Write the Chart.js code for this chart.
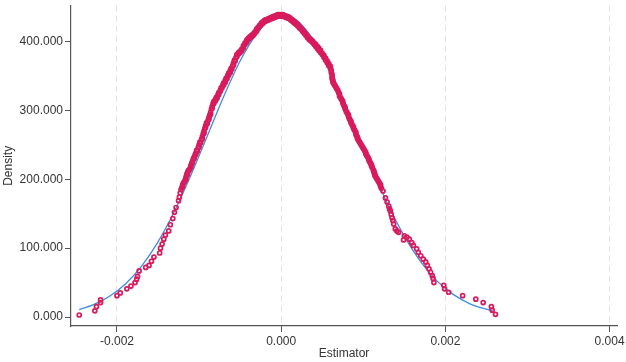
<!DOCTYPE html>
<html>
<head>
<meta charset="utf-8">
<script src="https://cdn.jsdelivr.net/npm/chart.js@4"></script>
<style>
  html, body { margin: 0; padding: 0; background: #fff; }
  #wrap { width: 626px; height: 362px; }
</style>
</head>
<body>
<div id="wrap"><canvas id="chart"></canvas></div>
<script>
// kernel density at each estimate
const estimator = [
  -0.00246, -0.00227, -0.00225, -0.00220, -0.00220, -0.00200, -0.00196, -0.00188, -0.00183, -0.00178,
  -0.00176, -0.00175, -0.00173, -0.00165, -0.00161, -0.00158, -0.00155, -0.00148, -0.00147, -0.00145,
  -0.00143, -0.00141, -0.00137, -0.00135, -0.00132, -0.00130, -0.00128, -0.00125, -0.00124, -0.00123,
  -0.00122, -0.00121, -0.00120, -0.00119, -0.00117, -0.00116, -0.00115, -0.00114, -0.00113, -0.00111,
  -0.00110, -0.00109, -0.00108, -0.00107, -0.00106, -0.00105, -0.00104, -0.00103, -0.00101, -0.00100,
  -0.00099, -0.00097, -0.00096, -0.00095, -0.00094, -0.00093, -0.00092, -0.00091, -0.00089, -0.00088,
  -0.00087, -0.00086, -0.00085, -0.00084, -0.00083, -0.00082, -0.00080, -0.00079, -0.00077, -0.00076,
  -0.00074, -0.00073, -0.00071, -0.00070, -0.00068, -0.00067, -0.00065, -0.00064, -0.00062, -0.00061,
  -0.00059, -0.00058, -0.00057, -0.00055, -0.00054, -0.00052, -0.00050, -0.00048, -0.00046, -0.00044,
  -0.00042, -0.00040, -0.00038, -0.00036, -0.00034, -0.00032, -0.00030, -0.00028, -0.00026, -0.00024,
  -0.00022, -0.00020, -0.00018, -0.00016, -0.00014, -0.00012, -0.00010, -0.00008, -0.00006, -0.00004,
  -0.00002, 0.00000, 0.00002, 0.00004, 0.00006, 0.00008, 0.00010, 0.00012, 0.00014, 0.00016,
  0.00018, 0.00020, 0.00022, 0.00024, 0.00026, 0.00028, 0.00030, 0.00032, 0.00034, 0.00036,
  0.00038, 0.00040, 0.00042, 0.00044, 0.00046, 0.00048, 0.00050, 0.00052, 0.00054, 0.00056,
  0.00058, 0.00060, 0.00061, 0.00062, 0.00062, 0.00063, 0.00065, 0.00067, 0.00069, 0.00071,
  0.00072, 0.00074, 0.00075, 0.00077, 0.00078, 0.00080, 0.00082, 0.00083, 0.00085, 0.00086,
  0.00088, 0.00089, 0.00091, 0.00092, 0.00093, 0.00095, 0.00097, 0.00099, 0.00101, 0.00103,
  0.00104, 0.00106, 0.00107, 0.00109, 0.00110, 0.00112, 0.00113, 0.00114, 0.00116, 0.00118,
  0.00120, 0.00121, 0.00124, 0.00127, 0.00129, 0.00131, 0.00132, 0.00133, 0.00134, 0.00135,
  0.00136, 0.00137, 0.00139, 0.00141, 0.00143, 0.00149, 0.00150, 0.00153, 0.00156, 0.00159,
  0.00161, 0.00165, 0.00167, 0.00170, 0.00173, 0.00176, 0.00178, 0.00180, 0.00182, 0.00184,
  0.00185, 0.00186, 0.00198, 0.00199, 0.00204, 0.00221, 0.00237, 0.00246, 0.00256, 0.00257,
  0.00261,
  // lower edge of the dense central band
  -0.00120, -0.00118, -0.00116, -0.00114, -0.00112, -0.00110, -0.00108, -0.00106, -0.00104, -0.00102,
  -0.00100, -0.00098, -0.00096, -0.00094, -0.00092, -0.00090, -0.00088, -0.00086, -0.00084, -0.00082,
  -0.00080, -0.00078, -0.00076, -0.00074, -0.00072, -0.00070, -0.00068, -0.00066, -0.00064, -0.00062,
  -0.00060, -0.00058, -0.00056, -0.00054, -0.00052, -0.00050, -0.00048, -0.00046, -0.00044, -0.00042,
  -0.00040, -0.00038, -0.00036, -0.00034, -0.00032, -0.00030, -0.00028, -0.00026, -0.00024, -0.00022,
  -0.00020, -0.00018, -0.00016, -0.00014, -0.00012, -0.00010, -0.00008, -0.00006, -0.00004, -0.00002,
  0.00000, 0.00002, 0.00004, 0.00006, 0.00008, 0.00010, 0.00012, 0.00014, 0.00016, 0.00018,
  0.00020, 0.00022, 0.00024, 0.00026, 0.00028, 0.00030, 0.00032, 0.00034, 0.00036, 0.00038,
  0.00040, 0.00042, 0.00044, 0.00046, 0.00048, 0.00050, 0.00052, 0.00054, 0.00056, 0.00058,
  0.00060, 0.00061, 0.00062, 0.00063, 0.00064, 0.00066, 0.00068, 0.00070, 0.00071, 0.00073,
  0.00075, 0.00076, 0.00078, 0.00079, 0.00081, 0.00082, 0.00084, 0.00085, 0.00087, 0.00088,
  0.00090, 0.00091, 0.00093, 0.00094, 0.00096, 0.00098, 0.00100, 0.00102, 0.00103, 0.00105,
  0.00107, 0.00108, 0.00110, 0.00111, 0.00113, 0.00114, 0.00115, 0.00117, 0.00119, 0.00121,
  0.00122
];
const density = [
  3, 9, 15, 21, 25, 31, 35, 41, 45, 50,
  55, 59, 67, 72, 75, 81, 87, 93, 100, 106,
  113, 119, 125, 134, 143, 152, 159, 169, 174, 180,
  185, 188, 192, 195, 199, 203, 207, 210, 213, 216,
  220, 223, 226, 230, 232, 235, 238, 242, 246, 250,
  254, 258, 262, 266, 270, 274, 278, 282, 286, 290,
  293, 297, 302, 306, 310, 313, 316, 319, 323, 326,
  330, 333, 337, 340, 344, 347, 351, 354, 358, 361,
  365, 369, 373, 377, 381, 384, 386, 389, 394, 398,
  402, 405, 407, 409, 411, 414, 418, 421, 424, 427,
  429, 431, 432, 433, 434, 435, 436, 437, 438, 439,
  439, 439, 439, 438, 437, 436, 435, 433, 431, 429,
  427, 425, 422, 420, 417, 414, 411, 408, 405, 403,
  401, 398, 396, 393, 390, 387, 383, 380, 376, 372,
  368, 364, 358, 352, 346, 341, 337, 333, 329, 324,
  319, 315, 311, 306, 302, 297, 293, 288, 284, 280,
  276, 272, 268, 263, 259, 255, 251, 247, 243, 239,
  235, 231, 227, 223, 219, 214, 210, 206, 202, 198,
  194, 190, 183, 173, 167, 161, 157, 154, 149, 144,
  140, 135, 128, 125, 123, 112, 118, 116, 113, 108,
  104, 99, 94, 89, 84, 80, 75, 70, 65, 60,
  56, 50, 46, 41, 36, 31, 26, 21, 15, 10,
  4,
  // lower edge of the dense central band
  189, 196, 200, 207, 213, 218, 224, 230, 236, 241,
  247, 253, 259, 267, 275, 281, 287, 294, 303, 310,
  314, 318, 323, 328, 333, 337, 341, 346, 351, 355,
  360, 366, 372, 378, 382, 384, 387, 391, 396, 399,
  403, 405, 407, 409, 412, 415, 419, 422, 425, 427,
  429, 430, 431, 433, 433, 434, 435, 436, 437, 437,
  437, 437, 436, 435, 434, 433, 431, 429, 427, 425,
  423, 420, 418, 415, 412, 409, 406, 403, 401, 399,
  396, 393, 390, 387, 384, 381, 377, 373, 369, 365,
  361, 355, 349, 344, 339, 335, 331, 326, 321, 317,
  313, 308, 304, 299, 295, 291, 286, 282, 278, 274,
  270, 265, 261, 257, 253, 249, 245, 241, 237, 233,
  229, 225, 221, 217, 212, 208, 204, 200, 196, 192,
  187
];

// normal density overlay
const normalX = [
  -0.00246, -0.0023, -0.0021, -0.0019, -0.0017, -0.0015, -0.0013, -0.0011, -0.0009, -0.0007,
  -0.0005, -0.0003, -0.0001, 0.0001, 0.0003, 0.0005, 0.0007, 0.0009, 0.0011, 0.0013,
  0.0015, 0.0017, 0.0019, 0.0021, 0.0023, 0.00258
];
const normalY = [
  10.8, 17.2, 29.4, 47.7, 73.9, 109.1, 153.5, 205.8, 262.9, 320.3,
  371.8, 411.3, 433.6, 435.7, 417.3, 380.8, 331.2, 274.6, 217.0, 163.3,
  117.2, 80.2, 52.2, 32.5, 19.2, 8.5
];

const xTicks = [-0.002, 0, 0.002, 0.004];
const yTicks = [0, 100, 200, 300, 400];

const axisColor = "#555";
const textColor = "#333";
const font = { family: "Liberation Sans, Arial, sans-serif", size: 12 };

new Chart(document.getElementById("chart"), {
  type: "scatter",
  data: {
    datasets: [
      {
        label: "Kernel density",
        data: estimator.map((x, i) => ({ x: x, y: density[i] })),
        pointStyle: "circle",
        pointRadius: 2,
        pointBorderWidth: 1.7,
        pointBackgroundColor: "rgba(255,255,255,0)",
        pointBorderColor: "#d81b5c",
        order: 1,
      },
      {
        label: "Normal density",
        type: "line",
        data: normalX.map((x, i) => ({ x: x, y: normalY[i] })),
        borderColor: "#3a8ee6",
        borderWidth: 1.3,
        pointRadius: 0,
        fill: false,
        cubicInterpolationMode: "monotone",
        order: 2,
      },
    ],
  },
  options: {
    responsive: true,
    maintainAspectRatio: false,
    animation: false,
    layout: { padding: { top: 3, right: 9, left: 0, bottom: 0 } },
    plugins: {
      legend: { display: false },
      tooltip: { enabled: false },
    },
    scales: {
      x: {
        type: "linear",
        min: -0.00256,
        max: 0.00409,
        afterBuildTicks: (axis) => { axis.ticks = xTicks.map((v) => ({ value: v })); },
        afterFit: (axis) => {
          axis.height = 36;
          axis.paddingLeft = 0;
          axis.paddingRight = 0;
        },
        ticks: {
          color: textColor,
          font: font,
          maxRotation: 0,
          padding: 2,
          callback: (v) => Number(v).toFixed(3),
        },
        grid: {
          color: "#e2e2e2",
          lineWidth: 1,
          tickColor: axisColor,
          tickLength: 6,
        },
        border: { color: axisColor, width: 1.2, dash: [6, 4] },
        title: {
          display: true,
          text: "Estimator",
          color: textColor,
          font: font,
          padding: { top: 0, bottom: 1 },
        },
      },
      y: {
        min: -13,
        max: 452,
        afterBuildTicks: (axis) => { axis.ticks = yTicks.map((v) => ({ value: v })); },
        afterFit: (axis) => {
          axis.width = 71;
          axis.paddingTop = 0;
          axis.paddingBottom = 0;
        },
        ticks: {
          color: textColor,
          font: font,
          padding: 2,
          callback: (v) => Number(v).toFixed(3),
        },
        grid: {
          drawOnChartArea: false,
          tickColor: axisColor,
          tickLength: 6,
        },
        border: { color: axisColor, width: 1.2 },
        title: {
          display: true,
          text: "Density",
          color: textColor,
          font: font,
          padding: { top: 1, bottom: 0 },
        },
      },
    },
  },
});
</script>
</body>
</html>
